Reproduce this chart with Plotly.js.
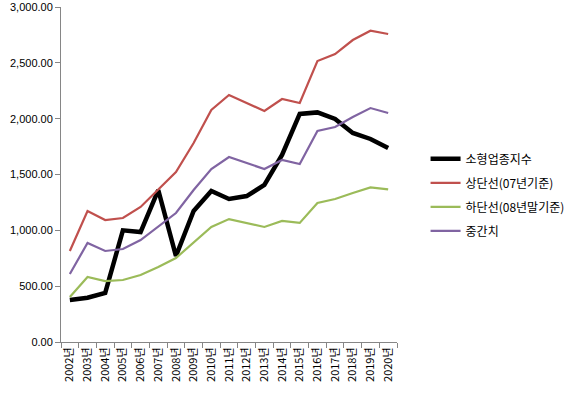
<!DOCTYPE html>
<html>
<head>
<meta charset="utf-8">
<script src="https://cdn.plot.ly/plotly-3.0.1.min.js"></script>
<style>html,body{margin:0;padding:0;background:#fff;}#chart{width:580px;height:393px;}</style>
</head>
<body>
<div id="chart"></div>
<script>
const years = ["2002년","2003년","2004년","2005년","2006년","2007년","2008년","2009년","2010년","2011년","2012년","2013년","2014년","2015년","2016년","2017년","2018년","2019년","2020년"];
const seriesNames = ["소형업종지수","상단선(07년기준)","하단선(08년말기준)","중간치"];
const smallIndex = [376,396,439,1000,985,1361,770,1173,1352,1281,1307,1406,1675,2042,2056,1997,1872,1818,1737];
const upperLine = [815,1173,1092,1110,1209,1365,1522,1782,2078,2212,2140,2069,2176,2140,2516,2579,2704,2788,2758];
const lowerLine = [403,582,546,555,600,672,752,887,1030,1101,1066,1030,1084,1066,1245,1281,1334,1384,1366];
const midLine = [609,887,815,833,913,1030,1155,1361,1549,1657,1603,1549,1630,1594,1890,1925,2015,2095,2051];

const colors = ["#000000","#C0504D","#9BBB59","#8064A2"];
const widths = [4.5,2.2,2.2,2.2];
const data = [smallIndex, upperLine, lowerLine, midLine].map((v,i)=>({
  type:"scatter", mode:"lines", x:years, y:v, name:seriesNames[i],
  legendgroup:"g"+i,
  line:{color:colors[i], width:widths[i]}
}));

const layout = {
  width:580, height:393,
  margin:{l:61, r:183, t:7, b:51},
  paper_bgcolor:"#fff", plot_bgcolor:"#fff",
  font:{family:"Liberation Sans, Arial, sans-serif", size:10, color:"#000"},
  showlegend:true,
  legend:{x:1.085, xanchor:"left", y:0.59, yanchor:"top", tracegroupgap:5,
    font:{family:"Noto Sans CJK KR, sans-serif", size:12, color:"#000"}, bgcolor:"rgba(0,0,0,0)"},
  xaxis:{type:"category", range:[-0.5,18.5], tickson:"boundaries", ticks:"outside", ticklen:5, tickcolor:"#868686",
    showline:true, linecolor:"#868686", linewidth:1, showgrid:false, tickangle:-90,
    tickfont:{family:"Noto Sans CJK KR, sans-serif", size:11}, zeroline:false, fixedrange:true},
  yaxis:{range:[0,3000], dtick:500, tickformat:",.2f", ticks:"outside", ticklen:5, tickcolor:"#868686",
    showline:true, linecolor:"#868686", linewidth:1, showgrid:false, zeroline:false,
    tickfont:{family:"Liberation Sans, Arial, sans-serif", size:11}, fixedrange:true}
};
Plotly.newPlot("chart", data, layout, {displayModeBar:false, staticPlot:true});
</script>
</body>
</html>
